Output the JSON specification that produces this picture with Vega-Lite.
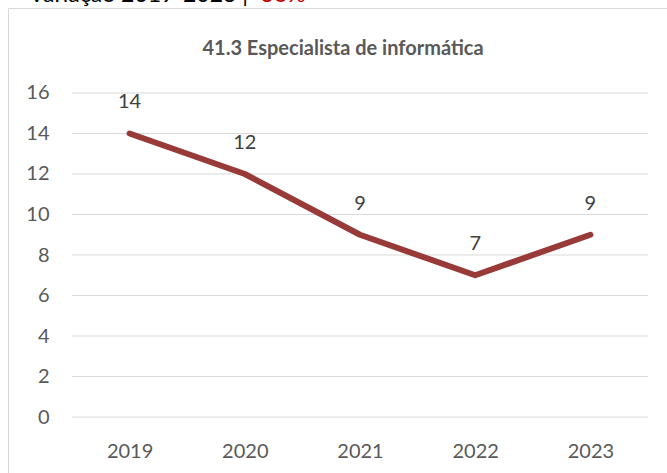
{
  "$schema": "https://vega.github.io/schema/vega-lite/v6.json",
  "autosize": {"type": "none"},
  "padding": {"left": 8, "top": 8, "right": 0, "bottom": 0},
  "width": 670,
  "height": 470,
  "background": "white",
  "config": {
    "view": {"stroke": "#d9d9d9", "strokeWidth": 1},
    "font": "Lato"
  },
  "datasets": {
    "series": [
      {"ano": 2019, "valor": 14},
      {"ano": 2020, "valor": 12},
      {"ano": 2021, "valor": 9},
      {"ano": 2022, "valor": 7},
      {"ano": 2023, "valor": 9}
    ],
    "grid": [
      {"g": 0}, {"g": 2}, {"g": 4}, {"g": 6}, {"g": 8},
      {"g": 10}, {"g": 12}, {"g": 14}, {"g": 16}
    ],
    "header": [
      {"texto": "Variação 2019-2023 |", "parte": "a"},
      {"texto": "-36%", "parte": "b"},
      {"texto": "41.3 Especialista de informática", "parte": "t"}
    ]
  },
  "layer": [
    {
      "data": {"name": "grid"},
      "mark": {"type": "rule", "color": "#d9d9d9", "strokeWidth": 1},
      "encoding": {
        "y": {"field": "g", "type": "quantitative",
              "scale": {"domain": [-3.0123, 20.1975], "nice": false, "zero": false},
              "axis": {"values": [0, 2, 4, 6, 8, 10, 12, 14, 16], "grid": false, "domain": false, "ticks": false,
                       "title": null, "orient": "left", "offset": -41, "labelPadding": 0,
                       "labelFont": "Lato", "labelFontSize": 20, "labelColor": "#595959", "labelAlign": "right", "labelBaseline": "middle"}},
        "x": {"datum": 2018.5, "type": "quantitative",
              "scale": {"domain": [2017.9444, 2023.7604], "nice": false, "zero": false},
              "axis": {"values": [2019, 2020, 2021, 2022, 2023], "format": "d", "grid": false, "domain": false, "ticks": false,
                       "title": null, "orient": "bottom", "offset": -21, "labelPadding": 0,
                       "labelFont": "Lato", "labelFontSize": 20, "labelColor": "#595959", "labelBaseline": "alphabetic"}},
        "x2": {"datum": 2023.5}
      }
    },
    {
      "data": {"name": "series"},
      "mark": {"type": "line", "color": "#983a37", "strokeWidth": 6, "strokeCap": "round", "strokeJoin": "round"},
      "encoding": {
        "x": {"field": "ano", "type": "quantitative"},
        "y": {"field": "valor", "type": "quantitative"}
      }
    },
    {
      "data": {"name": "series"},
      "mark": {"type": "text", "dy": -31, "baseline": "middle", "font": "Lato", "fontSize": 20, "color": "#404040"},
      "encoding": {
        "x": {"field": "ano", "type": "quantitative"},
        "y": {"field": "valor", "type": "quantitative"},
        "text": {"field": "valor", "type": "quantitative"}
      }
    },
    {
      "data": {"name": "header"},
      "transform": [{"filter": "datum.parte === 't'"}],
      "mark": {"type": "text", "align": "center", "baseline": "alphabetic", "font": "Lato", "fontSize": 20, "fontWeight": "bold", "color": "#595959"},
      "encoding": {
        "x": {"datum": 2020.8524, "type": "quantitative"},
        "y": {"datum": 17.8765, "type": "quantitative"},
        "text": {"field": "texto"}
      }
    },
    {
      "data": {"name": "header"},
      "transform": [{"filter": "datum.parte === 'a'"}],
      "mark": {"type": "text", "align": "right", "baseline": "alphabetic", "font": "Lato", "fontSize": 23, "color": "#000000"},
      "encoding": {
        "x": {"datum": 2020.0278, "type": "quantitative"},
        "y": {"datum": 20.494, "type": "quantitative"},
        "text": {"field": "texto"}
      }
    },
    {
      "data": {"name": "header"},
      "transform": [{"filter": "datum.parte === 'b'"}],
      "mark": {"type": "text", "align": "left", "baseline": "alphabetic", "font": "Lato", "fontSize": 23, "color": "#c00000"},
      "encoding": {
        "x": {"datum": 2020.0625, "type": "quantitative"},
        "y": {"datum": 20.494, "type": "quantitative"},
        "text": {"field": "texto"}
      }
    }
  ]
}
